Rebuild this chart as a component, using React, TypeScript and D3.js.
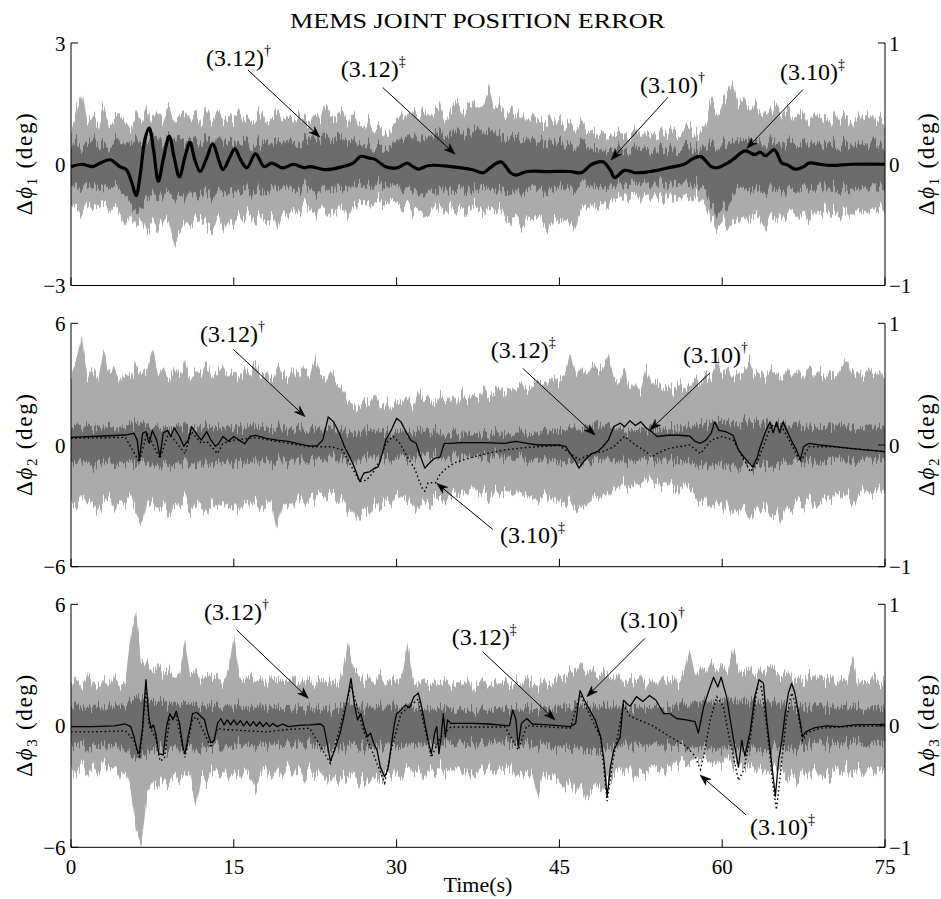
import React from 'react';
import * as d3 from 'd3';

// ---------------- DATA ----------------
// Gray noise envelopes (deg, left axis), sampled every 0.5 s from t = 0 to 75 s
const TIME_STEP = 0.5;
const X_TICKS = [0, 15, 30, 45, 60, 75];
const X_LABEL = 'Time(s)';
const TITLE = 'MEMS JOINT POSITION ERROR';

// Panel 1 – (3.12)† light gray
const P1_LIGHT_UP = [
  0.8, 1.3, 1.85, 1.0, 1.2, 0.9, 1.45, 1.0, 1.05, 1.2,
  1.1, 0.9, 1.35, 1.1, 1.45, 1.0, 1.35, 1.1, 1.4, 1.0,
  1.2, 1.35, 1.1, 1.3, 1.0, 1.4, 1.1, 1.3, 1.0, 1.2,
  1.1, 1.35, 1.0, 1.2, 1.1, 1.35, 1.0, 1.1, 1.3, 1.05,
  1.2, 1.0, 1.35, 1.1, 1.0, 1.3, 1.1, 1.5, 1.2, 1.1,
  1.4, 1.0, 1.25, 1.0, 0.9, 1.1, 0.85, 0.9, 0.8, 0.85,
  1.1, 1.3, 1.1, 1.4, 1.2, 1.5, 1.2, 1.3, 1.5, 1.1,
  1.3, 1.6, 1.2, 1.4, 1.5, 1.3, 1.4, 1.9, 1.3, 1.5,
  1.2, 1.4, 1.1, 1.3, 1.0, 1.2, 1.1, 0.95, 1.2, 1.0,
  1.1, 0.9, 1.05, 0.85, 1.0, 0.8, 0.9, 0.75, 0.85, 0.7,
  0.8, 0.7, 0.8, 0.65, 0.85, 0.7, 0.75, 0.8, 0.65, 0.85,
  0.75, 0.9, 0.7, 0.8, 0.95, 0.7, 0.8, 1.0, 1.6, 1.3,
  1.5, 1.8, 2.0, 1.4, 1.6, 1.3, 1.5, 1.2, 1.4, 1.3,
  1.5, 1.2, 1.4, 1.1, 1.3, 1.2, 1.0, 1.3, 1.1, 1.2,
  1.0, 1.3, 1.1, 1.2, 1.0, 1.25, 1.1, 1.3, 1.0, 1.2, 1.0,
];
const P1_LIGHT_LO = [
  -1.0, -1.1, -1.2, -0.95, -1.2, -1.0, -0.95, -1.1, -1.1, -1.3,
  -1.5, -1.2, -1.5, -1.3, -1.7, -1.4, -1.65, -1.3, -1.55, -2.0,
  -1.7, -1.4, -1.6, -1.3, -1.4, -1.5, -1.7, -1.3, -1.65, -1.4,
  -1.5, -1.2, -1.4, -1.15, -1.4, -1.2, -1.45, -1.3, -1.6, -1.2,
  -1.3, -1.1, -1.2, -1.0, -1.1, -1.25, -1.0, -1.3, -1.1, -1.2,
  -1.0, -1.3, -1.1, -1.0, -0.9, -1.0, -0.85, -0.95, -0.9, -0.85,
  -1.0, -1.1, -0.95, -1.2, -1.05, -1.15, -1.25, -1.0, -1.1, -1.2,
  -1.05, -1.2, -1.1, -1.25, -1.0, -1.15, -1.3, -1.1, -1.2, -1.05,
  -1.3, -1.45, -1.3, -1.55, -1.35, -1.5, -1.3, -1.45, -1.6, -1.35,
  -1.5, -1.3, -1.5, -1.55, -1.2, -1.1, -1.0, -1.05, -0.9, -1.0,
  -0.8, -0.9, -0.75, -0.85, -0.8, -0.9, -0.75, -0.85, -0.8, -0.9,
  -0.75, -0.9, -0.8, -0.85, -0.9, -0.8, -0.85, -1.0, -1.4, -1.55,
  -1.3, -1.6, -1.35, -1.5, -1.3, -1.45, -1.2, -1.4, -1.6, -1.3,
  -1.4, -1.2, -1.35, -1.1, -1.3, -1.2, -1.4, -1.15, -1.3, -1.1,
  -1.25, -1.1, -1.3, -1.15, -1.2, -1.1, -1.3, -1.1, -1.2, -1.05, -1.1,
];
// Panel 1 – (3.12)‡ dark gray
const P1_DARK_UP = [
  0.45, 0.55, 0.4, 0.5, 0.6, 0.45, 0.5, 0.4, 0.55, 0.5,
  0.55, 0.6, 0.7, 0.55, 0.65, 0.6, 0.7, 0.55, 0.65, 0.6,
  0.7, 0.55, 0.65, 0.6, 0.5, 0.65, 0.55, 0.6, 0.5, 0.6,
  0.55, 0.5, 0.6, 0.45, 0.55, 0.5, 0.6, 0.45, 0.55, 0.5,
  0.6, 0.5, 0.55, 0.6, 0.65, 0.7, 0.6, 0.75, 0.6, 0.65,
  0.7, 0.55, 0.6, 0.5, 0.45, 0.5, 0.4, 0.45, 0.4, 0.5,
  0.55, 0.7, 0.6, 0.75, 0.65, 0.8, 0.7, 0.75, 0.85, 0.7,
  0.75, 0.85, 0.7, 0.8, 0.75, 0.85, 0.7, 0.8, 0.75, 0.7,
  0.65, 0.7, 0.6, 0.65, 0.55, 0.6, 0.5, 0.55, 0.6, 0.5,
  0.55, 0.45, 0.5, 0.4, 0.5, 0.45, 0.4, 0.45, 0.35, 0.4,
  0.4, 0.35, 0.4, 0.3, 0.4, 0.35, 0.4, 0.3, 0.35, 0.4,
  0.35, 0.4, 0.3, 0.45, 0.4, 0.35, 0.4, 0.45, 0.5, 0.45,
  0.55, 0.5, 0.6, 0.5, 0.55, 0.6, 0.5, 0.55, 0.5, 0.6,
  0.5, 0.55, 0.5, 0.6, 0.45, 0.55, 0.5, 0.55, 0.45, 0.5,
  0.55, 0.5, 0.45, 0.55, 0.5, 0.55, 0.45, 0.5, 0.55, 0.5, 0.45,
];
const P1_DARK_LO = [
  -0.5, -0.6, -0.55, -0.5, -0.65, -0.55, -0.6, -0.5, -0.6, -0.7,
  -0.75, -0.9, -1.2, -1.0, -0.8, -0.75, -0.85, -0.7, -0.8, -0.9,
  -0.75, -0.85, -0.7, -0.8, -0.75, -0.7, -0.85, -0.7, -0.75, -0.7,
  -0.65, -0.7, -0.6, -0.7, -0.6, -0.65, -0.7, -0.6, -0.65, -0.6,
  -0.55, -0.65, -0.6, -0.55, -0.6, -0.7, -0.6, -0.65, -0.55, -0.6,
  -0.6, -0.55, -0.6, -0.5, -0.55, -0.5, -0.45, -0.5, -0.45, -0.5,
  -0.55, -0.6, -0.65, -0.6, -0.7, -0.65, -0.6, -0.7, -0.65, -0.6,
  -0.7, -0.65, -0.6, -0.7, -0.65, -0.7, -0.6, -0.65, -0.7, -0.6,
  -0.65, -0.7, -0.75, -0.65, -0.7, -0.6, -0.65, -0.7, -0.6, -0.65,
  -0.6, -0.55, -0.6, -0.65, -0.55, -0.5, -0.55, -0.5, -0.55, -0.5,
  -0.5, -0.55, -0.5, -0.45, -0.55, -0.5, -0.45, -0.55, -0.5, -0.45,
  -0.55, -0.5, -0.45, -0.5, -0.55, -0.5, -0.55, -0.6, -1.1, -1.2,
  -1.0, -1.1, -0.7, -0.65, -0.6, -0.7, -0.6, -0.65, -0.7, -0.6,
  -0.65, -0.6, -0.7, -0.6, -0.65, -0.55, -0.6, -0.65, -0.55, -0.6,
  -0.6, -0.55, -0.65, -0.6, -0.55, -0.6, -0.65, -0.55, -0.6, -0.55, -0.6,
];

// Panel 2
const P2_LIGHT_UP = [
  3.4, 4.2, 5.4, 3.3, 3.8, 3.2, 4.7, 3.5, 3.9, 3.1,
  3.6, 3.2, 4.0, 3.4, 3.7, 4.8, 3.5, 3.9, 3.2, 3.8,
  3.4, 4.1, 3.2, 3.7, 3.5, 4.0, 3.3, 3.6, 3.9, 3.4,
  3.7, 3.2, 3.8, 3.4, 4.1, 3.3, 3.6, 3.2, 3.9, 3.5,
  3.3, 3.8, 3.4, 4.0, 3.3, 4.3, 3.5, 3.2, 3.6, 3.0,
  2.8, 2.2, 2.0, 1.8, 2.2, 1.9, 2.5, 1.8, 2.1, 1.9,
  2.2, 2.0, 2.4, 1.8, 2.6, 2.1, 2.3, 1.9, 2.5, 2.2,
  2.4, 2.0, 2.6, 2.2, 2.5, 2.3, 2.8, 2.4, 2.6, 2.9,
  2.5, 2.9, 2.7, 3.1, 2.8, 3.0, 3.3, 2.9, 3.2, 3.4,
  3.1, 3.6, 4.5, 3.5, 3.9, 3.4, 4.0, 3.6, 3.8, 4.4,
  3.4, 3.0, 3.9, 2.8, 3.1, 2.6, 3.9, 2.9, 3.2, 2.7,
  3.0, 2.6, 3.1, 2.7, 2.9, 3.3, 3.0, 3.5, 3.2, 4.2,
  3.4, 3.8, 3.3, 3.6, 3.5, 4.2, 3.4, 3.7, 3.3, 3.9,
  3.5, 3.2, 3.8, 3.4, 3.6, 3.3, 3.9, 3.4, 3.7, 3.2,
  3.6, 3.3, 3.8, 4.2, 3.5, 3.7, 3.3, 3.8, 3.4, 3.6, 3.3,
];
const P2_LIGHT_LO = [
  -2.7, -3.2, -2.4, -3.0, -2.6, -3.3, -2.8, -2.5, -3.1, -2.7,
  -3.0, -2.6, -3.4, -4.2, -3.0, -2.7, -3.2, -2.8, -3.5, -2.9,
  -3.1, -2.6, -3.3, -2.8, -3.0, -3.4, -2.7, -3.1, -2.8, -3.2,
  -2.9, -3.3, -2.7, -3.0, -2.8, -3.2, -3.0, -2.7, -4.3, -3.0,
  -2.8, -3.1, -2.6, -2.9, -2.5, -2.7, -2.4, -2.6, -2.5, -2.8,
  -2.7, -3.3, -3.0, -3.7, -3.2, -3.5, -2.9, -3.2, -2.6, -2.9,
  -2.4, -2.8, -2.6, -3.0, -3.2, -2.8, -3.1, -2.7, -2.5, -2.8,
  -2.3, -2.6, -2.2, -2.5, -2.0, -2.4, -2.2, -2.7, -2.3, -2.5,
  -2.1, -2.4, -2.2, -2.6, -2.3, -2.5, -2.9, -2.4, -2.6, -2.8,
  -2.5, -3.0, -2.7, -3.4, -2.8, -3.1, -2.6, -2.9, -2.5, -2.7,
  -2.2, -2.0, -1.8, -2.2, -1.7, -2.0, -1.6, -1.9, -1.7, -2.1,
  -1.8, -2.0, -2.3, -1.9, -2.2, -2.5, -2.9, -2.6, -3.1, -2.8,
  -3.2, -2.9, -3.5, -3.0, -3.3, -3.7, -3.1, -3.4, -3.0, -3.5,
  -3.2, -3.9, -3.0, -3.3, -2.8, -3.1, -2.6, -3.0, -2.7, -2.5,
  -2.9, -2.4, -2.7, -2.3, -3.0, -2.5, -2.2, -2.6, -2.3, -2.1, -2.4,
];
const P2_DARK_UP = [
  0.9, 1.0, 0.8, 1.05, 0.85, 0.95, 0.8, 1.0, 0.9, 0.85,
  0.95, 0.85, 1.1, 0.9, 1.0, 0.85, 1.05, 0.9, 0.95, 0.8,
  1.0, 0.85, 0.95, 0.8, 0.9, 1.0, 0.85, 0.9, 0.8, 0.95,
  0.85, 0.9, 0.8, 0.95, 0.85, 0.9, 0.8, 0.85, 0.9, 0.8,
  0.85, 0.75, 0.9, 0.8, 0.75, 0.85, 0.7, 0.8, 0.75, 0.7,
  0.75, 0.6, 0.7, 0.6, 0.65, 0.7, 0.6, 0.65, 0.7, 0.6,
  0.7, 0.6, 0.65, 0.55, 0.7, 0.6, 0.55, 0.65, 0.6, 0.5,
  0.6, 0.5, 0.55, 0.6, 0.5, 0.55, 0.6, 0.5, 0.6, 0.55,
  0.6, 0.55, 0.65, 0.6, 0.7, 0.65, 0.6, 0.7, 0.75, 0.7,
  0.8, 0.75, 0.9, 0.8, 0.85, 0.9, 0.8, 0.95, 0.85, 0.9,
  0.85, 0.9, 0.8, 0.75, 0.85, 0.8, 0.75, 0.8, 0.85, 0.75,
  0.8, 0.85, 0.75, 0.9, 0.85, 1.0, 1.1, 1.0, 1.15, 1.05,
  1.2, 1.1, 1.15, 1.05, 1.2, 1.1, 1.25, 1.1, 1.15, 1.2,
  1.05, 1.1, 0.95, 1.0, 0.9, 0.95, 0.85, 0.9, 0.95, 0.85,
  0.9, 0.85, 0.95, 0.9, 0.85, 0.9, 0.8, 0.9, 0.85, 0.9, 0.85,
];
const P2_DARK_LO = [
  -0.8, -0.95, -0.75, -0.9, -1.0, -0.8, -0.9, -0.75, -0.95, -0.85,
  -0.9, -1.0, -1.1, -0.95, -1.05, -0.9, -1.0, -0.85, -0.95, -1.0,
  -0.9, -0.95, -0.85, -1.0, -0.9, -0.85, -0.95, -0.8, -0.9, -0.85,
  -0.9, -0.8, -0.85, -0.9, -0.8, -0.85, -0.75, -0.85, -0.8, -0.75,
  -0.8, -0.75, -0.8, -0.7, -0.75, -0.7, -0.8, -0.7, -0.75, -0.7,
  -0.75, -0.8, -0.7, -0.75, -0.7, -0.65, -0.7, -0.65, -0.6, -0.7,
  -0.65, -0.6, -0.7, -0.65, -0.6, -0.55, -0.65, -0.6, -0.55, -0.6,
  -0.55, -0.6, -0.5, -0.55, -0.6, -0.5, -0.55, -0.6, -0.5, -0.55,
  -0.6, -0.55, -0.65, -0.6, -0.7, -0.65, -0.7, -0.75, -0.7, -0.8,
  -0.75, -0.85, -0.8, -0.9, -0.85, -0.8, -0.9, -0.85, -0.8, -0.85,
  -0.8, -0.75, -0.7, -0.75, -0.7, -0.65, -0.7, -0.75, -0.7, -0.75,
  -0.7, -0.75, -0.8, -0.85, -0.9, -0.95, -1.0, -0.95, -1.05, -1.0,
  -1.05, -1.1, -1.0, -1.1, -1.05, -1.0, -1.1, -1.05, -1.0, -0.95,
  -1.0, -0.9, -0.95, -0.85, -0.9, -0.8, -0.85, -0.8, -0.75, -0.85,
  -0.8, -0.75, -0.8, -0.85, -0.75, -0.8, -0.7, -0.8, -0.75, -0.7, -0.75,
];

// Panel 3
const P3_LIGHT_UP = [
  2.0, 2.4, 1.8, 2.6, 2.1, 1.9, 2.3, 2.0, 2.5, 1.9,
  2.2, 4.4, 5.6, 3.0, 3.2, 2.6, 3.1, 2.5, 2.8, 2.3,
  2.6, 4.2, 2.4, 2.8, 2.2, 2.6, 2.3, 2.5, 2.1, 2.7,
  4.6, 2.4, 2.2, 2.6, 2.1, 2.4, 2.0, 2.5, 2.2, 2.3,
  2.1, 2.5, 2.0, 2.3, 2.2, 2.0, 2.4, 2.1, 2.3, 2.0,
  2.6, 4.15, 2.9, 2.5, 2.2, 2.4, 2.1, 2.6, 2.0, 2.3,
  2.2, 2.5, 4.1, 2.3, 2.0, 2.4, 1.9, 2.2, 2.0, 2.3,
  1.9, 2.2, 2.0, 2.4, 1.8, 2.1, 2.3, 1.9, 2.2, 2.0,
  2.3, 1.9, 2.2, 2.0, 2.4, 2.1, 1.9, 2.3, 2.0, 2.2,
  2.5, 2.3, 2.8, 2.6, 3.2, 2.5, 2.9, 2.4, 2.7, 2.5,
  2.3, 2.6, 2.0, 2.4, 2.1, 2.6, 1.9, 2.3, 2.0, 2.5,
  2.1, 2.4, 2.0, 2.7, 3.8, 2.4, 2.9, 2.6, 3.2, 2.7,
  3.0, 2.6, 3.9, 2.8, 2.5, 3.0, 2.4, 2.8, 2.6, 3.1,
  2.6, 2.4, 2.8, 2.2, 2.5, 2.1, 2.6, 2.3, 2.5, 2.2,
  2.5, 2.0, 2.4, 2.1, 3.4, 2.0, 2.3, 2.1, 2.5, 2.0, 2.3,
];
const P3_LIGHT_LO = [
  -2.0, -2.5, -1.8, -2.3, -1.9, -2.4, -1.7, -2.2, -2.0, -2.4,
  -2.1, -3.0, -5.1, -5.9, -3.3, -2.8, -3.2, -2.6, -2.9, -2.4,
  -2.7, -2.3, -2.6, -4.0, -2.4, -2.8, -2.2, -2.5, -2.1, -2.6,
  -2.3, -2.7, -2.2, -2.5, -3.2, -2.4, -2.1, -2.6, -2.2, -2.5,
  -2.0, -2.4, -2.1, -2.6, -2.2, -2.5, -2.0, -2.7, -2.3, -2.8,
  -2.4, -2.7, -2.5, -2.9, -2.6, -3.0, -2.5, -2.8, -2.4, -2.7,
  -2.2, -2.6, -2.0, -2.4, -2.2, -2.7, -2.1, -2.4, -2.0, -2.5,
  -2.2, -1.9, -2.4, -2.1, -2.6, -2.0, -2.3, -1.9, -2.5, -2.1,
  -2.3, -2.0, -2.6, -2.2, -2.5, -2.3, -3.4, -2.4, -2.6, -2.2,
  -2.8, -3.1, -2.7, -3.3, -2.9, -3.5, -3.0, -2.8, -3.2, -2.7,
  -2.4, -2.1, -2.5, -2.0, -2.6, -2.2, -2.4, -1.9, -2.3, -2.1,
  -2.2, -1.8, -2.0, -1.7, -1.9, -1.5, -1.8, -1.6, -2.0, -1.7,
  -1.9, -1.6, -2.0, -1.7, -2.2, -1.9, -2.3, -2.0, -2.4, -2.1,
  -2.3, -2.0, -2.6, -2.2, -2.7, -2.1, -2.5, -2.2, -2.8, -2.3,
  -2.6, -2.1, -2.5, -2.0, -2.7, -2.2, -2.4, -1.9, -2.5, -2.1, -2.3,
];
const P3_DARK_UP = [
  0.9, 1.1, 0.85, 1.0, 0.9, 1.05, 0.85, 1.0, 0.95, 1.1,
  1.0, 1.3, 1.5, 1.3, 1.4, 1.2, 1.1, 1.25, 1.0, 1.15,
  1.05, 1.2, 1.0, 1.1, 0.95, 1.05, 0.9, 1.0, 0.95, 1.05,
  0.9, 1.0, 0.85, 0.95, 0.9, 1.0, 0.85, 0.95, 0.9, 0.85,
  0.9, 0.8, 0.95, 0.85, 0.8, 0.9, 0.85, 0.95, 0.8, 0.9,
  1.0, 1.1, 0.95, 1.0, 0.9, 0.95, 0.85, 1.0, 0.9, 0.95,
  1.0, 0.9, 1.05, 0.85, 0.9, 0.8, 0.85, 0.8, 0.9, 0.8,
  0.85, 0.75, 0.8, 0.85, 0.75, 0.8, 0.85, 0.75, 0.8, 0.85,
  0.8, 0.75, 0.85, 0.8, 0.9, 0.85, 0.8, 0.9, 0.85, 0.9,
  0.95, 1.0, 0.9, 1.05, 1.0, 1.1, 0.95, 1.0, 1.05, 0.95,
  1.0, 0.9, 0.95, 0.85, 0.9, 0.95, 0.85, 0.9, 0.95, 0.85,
  0.9, 0.95, 1.0, 1.1, 1.05, 1.2, 1.1, 1.25, 1.15, 1.3,
  1.2, 1.25, 1.3, 1.15, 1.25, 1.2, 1.3, 1.15, 1.25, 1.2,
  1.1, 1.15, 1.0, 1.05, 0.95, 1.0, 0.9, 0.95, 1.0, 0.9,
  0.95, 0.85, 0.9, 0.95, 0.85, 0.9, 0.8, 0.9, 0.85, 0.9, 0.85,
];
const P3_DARK_LO = [
  -0.9, -1.0, -0.85, -1.1, -0.95, -1.0, -0.9, -1.05, -0.95, -1.0,
  -1.1, -1.3, -1.6, -1.5, -1.3, -1.2, -1.25, -1.1, -1.2, -1.05,
  -1.15, -1.2, -1.05, -1.3, -1.1, -1.0, -1.1, -0.95, -1.05, -1.0,
  -1.05, -0.95, -1.0, -0.9, -1.1, -0.95, -1.0, -0.9, -0.95, -1.0,
  -0.9, -0.95, -0.85, -0.9, -0.95, -0.9, -1.0, -1.05, -0.95, -1.0,
  -1.05, -1.1, -1.0, -1.15, -1.05, -1.2, -1.1, -1.05, -1.0, -1.1,
  -1.0, -0.95, -1.05, -0.9, -1.0, -0.95, -0.9, -0.85, -0.9, -0.95,
  -0.85, -0.9, -0.8, -0.9, -0.85, -0.8, -0.9, -0.85, -0.8, -0.9,
  -0.85, -0.9, -0.95, -0.85, -0.9, -0.95, -1.0, -0.9, -0.95, -1.0,
  -1.05, -1.0, -1.1, -1.15, -1.05, -1.2, -1.1, -1.25, -1.15, -1.1,
  -1.0, -1.05, -0.95, -1.0, -0.9, -0.95, -1.0, -0.9, -0.95, -1.0,
  -0.95, -1.0, -1.05, -1.0, -1.1, -1.05, -1.15, -1.1, -1.2, -1.1,
  -1.15, -1.2, -1.1, -1.2, -1.15, -1.25, -1.1, -1.2, -1.3, -1.15,
  -1.1, -1.05, -1.0, -1.1, -0.95, -1.0, -0.9, -1.0, -0.95, -0.9,
  -0.95, -0.9, -1.0, -0.85, -0.95, -0.9, -0.85, -0.95, -0.9, -0.85, -0.9,
];

// Black curves [time (s), value (right axis)]
const P1_SOLID: [number, number][] = [
  [0, -0.02], [1, 0.0], [2, -0.02], [2.7, 0.01], [3.6, 0.037], [4.5, -0.02], [5.1, -0.045],
  [5.6, -0.15], [6.0, -0.26], [6.36, -0.1], [6.8, 0.2], [7.2, 0.3], [7.6, 0.12], [8.05, -0.14],
  [8.5, 0.04], [9.06, 0.23], [9.5, 0.06], [9.98, -0.105], [10.5, 0.06], [10.96, 0.18], [11.4, 0.04],
  [11.9, -0.06], [12.5, 0.05], [13.06, 0.17], [13.6, 0.04], [14.0, -0.045], [14.65, 0.06], [15.1, 0.13],
  [15.6, 0.04], [16.2, -0.03], [17.0, 0.086], [17.8, -0.02], [18.5, 0.01], [19.5, -0.03], [20.5, 0.0],
  [21.5, -0.03], [22, -0.02], [23.5, -0.045], [25, -0.02], [26, 0.01], [26.7, 0.065], [27.5, 0.05],
  [28, 0.04], [29, -0.02], [30, -0.03], [31, 0.01], [31.5, -0.02], [32, -0.04], [33, -0.01],
  [35, -0.02], [37, -0.045], [38, -0.07], [38.6, -0.03], [39.6, 0.02], [40.5, -0.07], [41, -0.09],
  [42, -0.06], [44, -0.06], [46, -0.06], [47, -0.07], [48, 0.0], [49, 0.02], [49.7, -0.05],
  [50.1, -0.11], [51, -0.05], [52, -0.07], [54, -0.05], [55, -0.03], [56.5, 0.0], [57.2, 0.04],
  [58, 0.065], [59, -0.02], [59.5, -0.03], [60.5, 0.01], [61, 0.04], [62.1, 0.11], [63, 0.08],
  [63.5, 0.1], [64, 0.07], [64.8, 0.12], [65.5, 0.01], [66, -0.005], [66.7, -0.04], [67.5, -0.02],
  [68, 0.01], [69, 0.0], [70, -0.01], [72, 0.0], [75, 0.0],
];

const P2_SOLID: [number, number][] = [
  [0, 0.063], [3, 0.074], [5, 0.082], [5.8, 0.096], [6.1, 0.04], [6.3, -0.12], [6.6, 0.096],
  [6.9, 0.11], [7.2, 0.014], [7.5, 0.12], [7.9, 0.04], [8.2, -0.1], [8.5, 0.1], [8.9, 0.12],
  [9.2, 0.07], [9.5, 0.14], [10, 0.07], [10.4, -0.01], [10.8, 0.04], [11.1, 0.15], [11.5, 0.1],
  [12, 0.04], [12.5, 0.11], [12.9, 0.04], [13.3, -0.01], [13.6, 0.01], [14, 0.07], [14.5, 0.03],
  [15, 0.07], [15.5, 0.04], [16, 0.01], [16.5, 0.07], [17, 0.08], [18, 0.055], [19, 0.04],
  [20, 0.03], [21, 0.01], [22, -0.01], [22.7, -0.005], [23.2, 0.04], [23.7, 0.23], [24.2, 0.19],
  [24.7, 0.1], [25.2, -0.014], [25.7, -0.1], [26.1, -0.18], [26.6, -0.3], [27, -0.23], [27.5, -0.22],
  [28, -0.19], [28.3, -0.18], [28.6, -0.1], [29, 0.04], [29.5, 0.12], [30, 0.22], [30.4, 0.19],
  [30.8, 0.12], [31.3, 0.04], [31.8, 0.014], [32.3, -0.12], [32.6, -0.19], [33, -0.15], [33.5, -0.11],
  [34, -0.1], [34.4, 0.014], [35, 0.014], [36, 0.02], [38, 0.02], [40, 0.014], [41, 0.03],
  [42, 0.014], [43, 0.0], [45, 0.0], [45.6, -0.014], [46, -0.07], [46.4, -0.12], [46.8, -0.19],
  [47.2, -0.14], [47.6, -0.1], [48, -0.07], [48.5, -0.055], [49, -0.014], [49.5, 0.04], [50, 0.15],
  [50.6, 0.18], [51, 0.15], [51.5, 0.2], [52, 0.16], [52.5, 0.19], [53, 0.14], [53.5, 0.11],
  [54, 0.07], [55, 0.08], [56, 0.08], [57, 0.074], [57.5, 0.03], [58, 0.014], [58.5, 0.04],
  [59, 0.1], [59.3, 0.19], [59.7, 0.12], [60.3, 0.11], [61, 0.08], [61.5, -0.04], [62, -0.1],
  [62.5, -0.15], [62.8, -0.18], [63.2, -0.11], [63.5, -0.014], [64, 0.11], [64.4, 0.19], [64.7, 0.1],
  [65, 0.19], [65.3, 0.1], [65.6, 0.19], [66, 0.11], [66.5, 0.014], [66.8, -0.03], [67.2, -0.12],
  [67.5, -0.014], [68, 0.014], [69, 0.0], [70, -0.01], [72, -0.03], [75, -0.055],
];
const P2_DOTTED: [number, number][] = [
  [0, 0.055], [5, 0.063], [6.3, -0.14], [7, 0.1], [8.2, -0.11], [9, 0.1], [10, -0.014],
  [10.5, -0.07], [11.1, 0.11], [12, 0.014], [12.5, 0.03], [13.5, -0.07], [14, 0.014], [15, 0.04],
  [17, 0.06], [20, 0.014], [22, -0.014], [24, -0.014], [25, -0.04], [26.6, -0.3], [27.2, -0.29],
  [27.8, -0.23], [28.5, -0.12], [29, 0.014], [29.7, 0.07], [30.3, 0.014], [31, -0.1], [31.7, -0.2],
  [32.1, -0.3], [32.4, -0.36], [32.6, -0.38], [32.9, -0.31], [33.6, -0.31], [34.0, -0.24], [34.6, -0.19],
  [35.5, -0.14], [37, -0.1], [38.3, -0.07], [40, -0.04], [42, -0.02], [45, -0.005], [46.8, -0.12],
  [48, -0.07], [49, -0.055], [50, -0.014], [51, 0.07], [52, 0.0], [53, -0.055], [53.5, -0.1],
  [54, -0.07], [55, -0.03], [56, -0.014], [57, 0.0], [58, -0.07], [59, 0.04], [60, 0.07],
  [61, 0.04], [62, -0.12], [62.6, -0.22], [63.2, -0.15], [64, 0.04], [64.5, 0.16], [65.5, 0.15],
  [66.5, -0.014], [67.2, -0.14], [68, -0.014], [70, -0.014], [72, -0.03], [75, -0.055],
];

const P3_SOLID: [number, number][] = [
  [0, -0.007], [2, -0.007], [4, 0.0], [5, 0.015], [5.5, -0.007], [5.8, -0.09], [6.1, -0.2],
  [6.3, -0.23], [6.6, -0.007], [6.9, 0.38], [7.2, 0.05], [7.4, -0.02], [7.6, 0.007], [7.8, -0.06],
  [8.1, -0.23], [8.5, -0.24], [8.8, -0.007], [9.1, 0.1], [9.4, 0.05], [9.7, 0.12], [10.0, 0.02],
  [10.3, -0.17], [10.5, -0.23], [10.8, -0.09], [11.2, 0.1], [11.6, 0.11], [12, 0.075], [12.3, 0.05],
  [12.6, -0.06], [12.9, -0.14], [13.2, -0.12], [13.5, 0.02], [13.8, 0.06], [14.1, 0.007], [14.4, 0.048],
  [14.7, 0.007], [15.0, 0.048], [15.3, 0.007], [15.6, 0.042], [15.9, 0.0], [16.2, 0.037], [16.5, -0.002],
  [16.8, 0.034], [17.1, -0.002], [17.4, 0.031], [17.7, -0.007], [18.0, 0.026], [18.3, -0.007], [18.6, 0.02],
  [19, -0.007], [19.5, 0.015], [20, -0.007], [21, 0.004], [22, 0.007], [23, 0.015], [23.3, -0.007],
  [23.6, -0.145], [23.9, -0.29], [24.3, -0.2], [24.8, -0.06], [25.2, 0.1], [25.5, 0.24], [25.8, 0.39],
  [26.1, 0.18], [26.4, 0.048], [26.7, 0.1], [27, -0.007], [27.3, -0.09], [27.6, -0.06], [27.9, -0.145],
  [28.2, -0.2], [28.5, -0.34], [28.9, -0.42], [29.2, -0.36], [29.5, -0.17], [29.8, 0.02], [30.0, 0.1],
  [30.4, 0.13], [30.8, 0.17], [31.2, 0.15], [31.6, 0.24], [32.0, 0.27], [32.3, 0.16], [32.6, 0.02],
  [32.9, -0.12], [33.2, -0.23], [33.5, -0.06], [33.7, -0.007], [33.9, -0.23], [34.1, -0.09], [34.3, 0.1],
  [34.5, -0.09], [34.7, 0.048], [35, 0.02], [37, 0.02], [38.5, 0.015], [40.4, 0.0], [40.7, 0.13],
  [41.0, 0.048], [41.2, -0.17], [41.5, 0.02], [42, 0.06], [42.5, 0.015], [44, 0.007], [46, -0.007],
  [46.5, 0.02], [46.9, 0.29], [47.3, 0.21], [47.8, 0.13], [48.3, 0.048], [48.8, -0.09], [49.1, -0.28],
  [49.4, -0.58], [49.7, -0.34], [50.0, -0.2], [50.3, -0.15], [50.6, -0.09], [50.9, 0.21], [51.5, 0.16],
  [52.1, 0.24], [52.7, 0.2], [53.3, 0.25], [53.9, 0.21], [54.6, 0.1], [55.2, 0.1], [55.8, 0.06],
  [56.7, 0.048], [57.5, 0.034], [57.8, -0.06], [58.3, 0.16], [58.7, 0.27], [59.2, 0.4], [59.6, 0.32],
  [59.9, 0.4], [60.4, 0.24], [61.0, -0.09], [61.5, -0.34], [61.8, -0.12], [62.1, -0.25], [62.6, -0.035],
  [63.0, 0.24], [63.4, 0.38], [63.8, 0.35], [64.1, 0.048], [64.6, -0.34], [64.9, -0.58], [65.2, -0.28],
  [65.5, -0.12], [65.8, 0.1], [66.1, 0.27], [66.4, 0.35], [66.7, 0.27], [67.1, 0.075], [67.4, -0.09],
  [67.7, -0.05], [68.4, -0.02], [69.1, -0.007], [69.7, 0.0], [70.9, -0.007], [72.2, 0.007], [75, 0.012],
];
const P3_DOTTED: [number, number][] = [
  [0, -0.05], [2, -0.05], [4, -0.045], [5, -0.04], [5.8, -0.12], [6.3, -0.27], [6.6, -0.05],
  [6.9, 0.3], [7.2, 0.0], [7.8, -0.1], [8.2, -0.29], [8.6, -0.27], [9.1, 0.06], [9.7, 0.08],
  [10.5, -0.26], [11.2, 0.06], [11.6, 0.07], [12.9, -0.18], [13.5, -0.02], [14, -0.03], [16, -0.04],
  [18, -0.05], [20, -0.03], [22, -0.02], [23.9, -0.31], [25.8, 0.33], [27, -0.05], [27.8, -0.22],
  [28.9, -0.47], [29.5, -0.2], [30.4, 0.1], [32, 0.22], [33.2, -0.26], [34, -0.1], [35, -0.01],
  [40, -0.01], [41.2, -0.2], [42, 0.0], [46, -0.02], [46.9, 0.26], [48.8, -0.1], [49.4, -0.62],
  [50, -0.25], [50.9, 0.17], [51.5, 0.08], [53.6, 0.0], [55.2, -0.09], [56.7, -0.17], [57.5, -0.25],
  [58, -0.36], [58.3, -0.25], [58.9, 0.05], [59.5, 0.24], [60.1, 0.16], [60.7, -0.12], [61.5, -0.45],
  [62, -0.36], [62.6, -0.09], [63.2, 0.3], [63.6, 0.32], [64.1, 0.0], [64.7, -0.5], [65, -0.69],
  [65.3, -0.45], [65.9, 0.05], [66.4, 0.27], [66.9, 0.15], [67.4, -0.12], [67.8, -0.06], [69, -0.02],
  [72, -0.005], [75, 0.0],
];

// Annotations: label, superscript mark, text anchor (t, left value), arrow start, arrow tip
type Note = { label: string; mark: string; tx: number; tv: number; fx: number; fv: number; ex: number; ev: number };
const P1_NOTES: Note[] = [
  { label: '(3.12)', mark: '†', tx: 12.44, tv: 2.43, fx: 16.31, fv: 2.33, ex: 22.94, ev: 0.67 },
  { label: '(3.12)', mark: '‡', tx: 24.85, tv: 2.17, fx: 28.72, fv: 1.9, ex: 35.38, ev: 0.25 },
  { label: '(3.10)', mark: '†', tx: 52.43, tv: 1.76, fx: 55.01, fv: 1.66, ex: 49.76, ev: 0.105 },
  { label: '(3.10)', mark: '‡', tx: 65.33, tv: 2.08, fx: 67.45, fv: 1.85, ex: 62.26, ev: 0.39 },
];
const P2_NOTES: Note[] = [
  { label: '(3.12)', mark: '†', tx: 11.89, tv: 5.09, fx: 14.95, fv: 4.72, ex: 21.56, ev: 1.4 },
  { label: '(3.12)', mark: '‡', tx: 38.67, tv: 4.27, fx: 41.62, fv: 3.78, ex: 48.28, ev: 0.49 },
  { label: '(3.10)', mark: '†', tx: 56.39, tv: 4.04, fx: 58.88, fv: 3.56, ex: 53.35, ev: 0.74 },
  { label: '(3.10)', mark: '‡', tx: 39.53, tv: -4.85, fx: 38.86, fv: -4.16, ex: 33.7, ev: -1.89 },
];
const P3_NOTES: Note[] = [
  { label: '(3.12)', mark: '†', tx: 12.25, tv: 5.22, fx: 15.27, fv: 4.73, ex: 21.87, ev: 1.36 },
  { label: '(3.12)', mark: '‡', tx: 35.08, tv: 3.99, fx: 37.93, fv: 3.66, ex: 44.6, ev: 0.29 },
  { label: '(3.10)', mark: '†', tx: 50.58, tv: 4.81, fx: 52.89, fv: 4.32, ex: 47.52, ev: 1.44 },
  { label: '(3.10)', mark: '‡', tx: 62.56, tv: -5.39, fx: 62.2, fv: -4.4, ex: 57.96, ev: -2.43 },
];

// ---------------- LAYOUT ----------------
const W = 941;
const H = 899;
const X0 = 71;
const X1 = 885;
const FONT = '"Liberation Serif", "DejaVu Serif", "Times New Roman", serif';
const LIGHT = '#ababab';
const DARK = '#6c6c6c';

const PANELS = [
  { top: 43, bottom: 285.5, lim: 3, lu: P1_LIGHT_UP, ll: P1_LIGHT_LO, du: P1_DARK_UP, dl: P1_DARK_LO,
    solid: P1_SOLID, dotted: null as [number, number][] | null, solidW: 3.2, smooth: true, sub: '1', notes: P1_NOTES },
  { top: 323.3, bottom: 566.7, lim: 6, lu: P2_LIGHT_UP, ll: P2_LIGHT_LO, du: P2_DARK_UP, dl: P2_DARK_LO,
    solid: P2_SOLID, dotted: P2_DOTTED, solidW: 1.3, smooth: false, sub: '2', notes: P2_NOTES },
  { top: 604.3, bottom: 847.3, lim: 6, lu: P3_LIGHT_UP, ll: P3_LIGHT_LO, du: P3_DARK_UP, dl: P3_DARK_LO,
    solid: P3_SOLID, dotted: P3_DOTTED, solidW: 1.3, smooth: false, sub: '3', notes: P3_NOTES },
];

const x = d3.scaleLinear().domain([0, 75]).range([X0, X1]);

function arrowPath(x1: number, y1: number, x2: number, y2: number) {
  const dx = x2 - x1, dy = y2 - y1;
  const L = Math.hypot(dx, dy);
  const ux = dx / L, uy = dy / L;
  const len = 11, hw = 4;
  const bx = x2 - ux * len, by = y2 - uy * len;
  const ix = x2 - ux * len * 0.72, iy = y2 - uy * len * 0.72;
  const px = -uy, py = ux;
  return {
    head: `M${x2},${y2}L${bx + px * hw},${by + py * hw}L${ix},${iy}L${bx - px * hw},${by - py * hw}Z`,
    ix, iy,
  };
}

function Panel({ p, last }: { p: typeof PANELS[number]; last: boolean }) {
  const yl = d3.scaleLinear().domain([-p.lim, p.lim]).range([p.bottom, p.top]);
  const yr = d3.scaleLinear().domain([-1, 1]).range([p.bottom, p.top]);
  const tx = (i: number) => x(i * TIME_STEP);
  const band = (up: number[], lo: number[]) =>
    d3.area<number>().x((_, i) => tx(i)).y0((_, i) => yl(lo[i])).y1((d) => yl(d))(up) || '';
  const line = d3.line<[number, number]>().x((d) => x(d[0])).y((d) => yr(d[1]));
  const solidLine = p.smooth ? line.curve(d3.curveCatmullRom.alpha(0.5)) : line;
  const mid = (p.top + p.bottom) / 2;
  const tick = 7;
  const leftTicks = [-p.lim, 0, p.lim];
  const rightTicks = [-1, 0, 1];
  const fmt = (v: number) => (v < 0 ? '\u2212' + Math.abs(v) : String(v));

  return (
    <g>
      {leftTicks.map((v) => (
        <line key={'lt' + v} x1={X0} x2={X0 + tick} y1={yl(v)} y2={yl(v)} stroke="#000" strokeWidth={1} />
      ))}
      <g filter="url(#hair)">
        <path d={band(p.lu, p.ll)} fill={LIGHT} />
        <path d={band(p.du, p.dl)} fill={DARK} />
      </g>
      {p.dotted && (
        <path d={d3.line<[number, number]>().x((d) => x(d[0])).y((d) => yr(d[1]))(p.dotted) || ''}
          fill="none" stroke="#000" strokeWidth={1.4} strokeDasharray="1.6 2.6" />
      )}
      <path d={solidLine(p.solid) || ''} fill="none" stroke="#000" strokeWidth={p.solidW} strokeLinejoin="round" />

      {/* axes */}
      <line x1={X0} x2={X0} y1={p.top} y2={p.bottom} stroke="#000" strokeWidth={1} />
      <line x1={X1} x2={X1} y1={p.top} y2={p.bottom} stroke="#000" strokeWidth={1} />
      <line x1={X0} x2={X1} y1={p.bottom} y2={p.bottom} stroke="#000" strokeWidth={1} />
      {rightTicks.map((v) => (
        <line key={'rt' + v} x1={X1 - tick} x2={X1} y1={yr(v)} y2={yr(v)} stroke="#000" strokeWidth={1} />
      ))}
      {X_TICKS.map((t) => (
        <line key={'xt' + t} x1={x(t)} x2={x(t)} y1={p.bottom} y2={p.bottom - 8} stroke="#000" strokeWidth={1} />
      ))}

      {/* tick labels */}
      {leftTicks.map((v) => (
        <text key={'ll' + v} x={65.5} y={yl(v) + 7.5} textAnchor="end" fontSize={21} fontFamily={FONT}>
          {fmt(v)}
        </text>
      ))}
      {rightTicks.map((v) => (
        <text key={'rl' + v} x={889} y={yr(v) + 7.5} textAnchor="start" fontSize={21} fontFamily={FONT}>
          {fmt(v)}
        </text>
      ))}
      {last &&
        X_TICKS.map((t) => (
          <text key={'xl' + t} x={x(t)} y={874} textAnchor="middle" fontSize={21} fontFamily={FONT}>
            {t}
          </text>
        ))}

      {/* axis titles */}
      {[31.5, 934].map((bx) => (
        <text key={'yl' + bx} transform={`translate(${bx},${mid}) rotate(-90)`} textAnchor="middle"
          fontSize={23} fontFamily={FONT} textLength={102}>
          {'\u0394'}
          <tspan fontStyle="italic">{'\u03d5'}</tspan>
          <tspan fontSize={15} dy={5}>{p.sub}</tspan>
          <tspan dy={-5}>{' (deg)'}</tspan>
        </text>
      ))}

      {/* annotations */}
      {p.notes.map((n, i) => {
        const ax1 = x(n.fx), ay1 = yl(n.fv), ax2 = x(n.ex), ay2 = yl(n.ev);
        const a = arrowPath(ax1, ay1, ax2, ay2);
        return (
          <g key={'n' + i}>
            <text x={x(n.tx)} y={yl(n.tv)} fontSize={24} fontFamily={FONT}>
              {n.label}
              <tspan fontSize={14} dy={-11}>{n.mark}</tspan>
            </text>
            <line x1={ax1} y1={ay1} x2={a.ix} y2={a.iy} stroke="#000" strokeWidth={1} />
            <path d={a.head} fill="#000" stroke="#000" strokeWidth={0.5} />
          </g>
        );
      })}
    </g>
  );
}

export default function App() {
  return (
    <svg width={W} height={H} viewBox={`0 0 ${W} ${H}`}
      style={{ position: 'absolute', left: 0, top: 0, background: '#fff' }}>
      <defs>
        {/* texture filter: breaks the band edges into thin vertical hairs */}
        <filter id="hair" x="-2%" y="-20%" width="104%" height="140%" colorInterpolationFilters="sRGB">
          <feTurbulence type="fractalNoise" baseFrequency="0.55 0.003" numOctaves={2} seed={7} result="noise" />
          <feColorMatrix in="noise" type="matrix"
            values="0 0 0 0 0.5  0 1 0 0 0  0 0 0 0 0  0 0 0 0 1" result="disp" />
          <feDisplacementMap in="SourceGraphic" in2="disp" scale={26} xChannelSelector="R" yChannelSelector="G" />
        </filter>
      </defs>
      <rect x={0} y={0} width={W} height={H} fill="#fff" />
      <text x={477.5} y={28} textAnchor="middle" fontSize={21} fontFamily={FONT} textLength={375}
        lengthAdjust="spacingAndGlyphs">
        {TITLE}
      </text>
      {PANELS.map((p, i) => (
        <Panel key={i} p={p} last={i === PANELS.length - 1} />
      ))}
      <text x={478} y={892} textAnchor="middle" fontSize={22} fontFamily={FONT}>
        {X_LABEL}
      </text>
    </svg>
  );
}
